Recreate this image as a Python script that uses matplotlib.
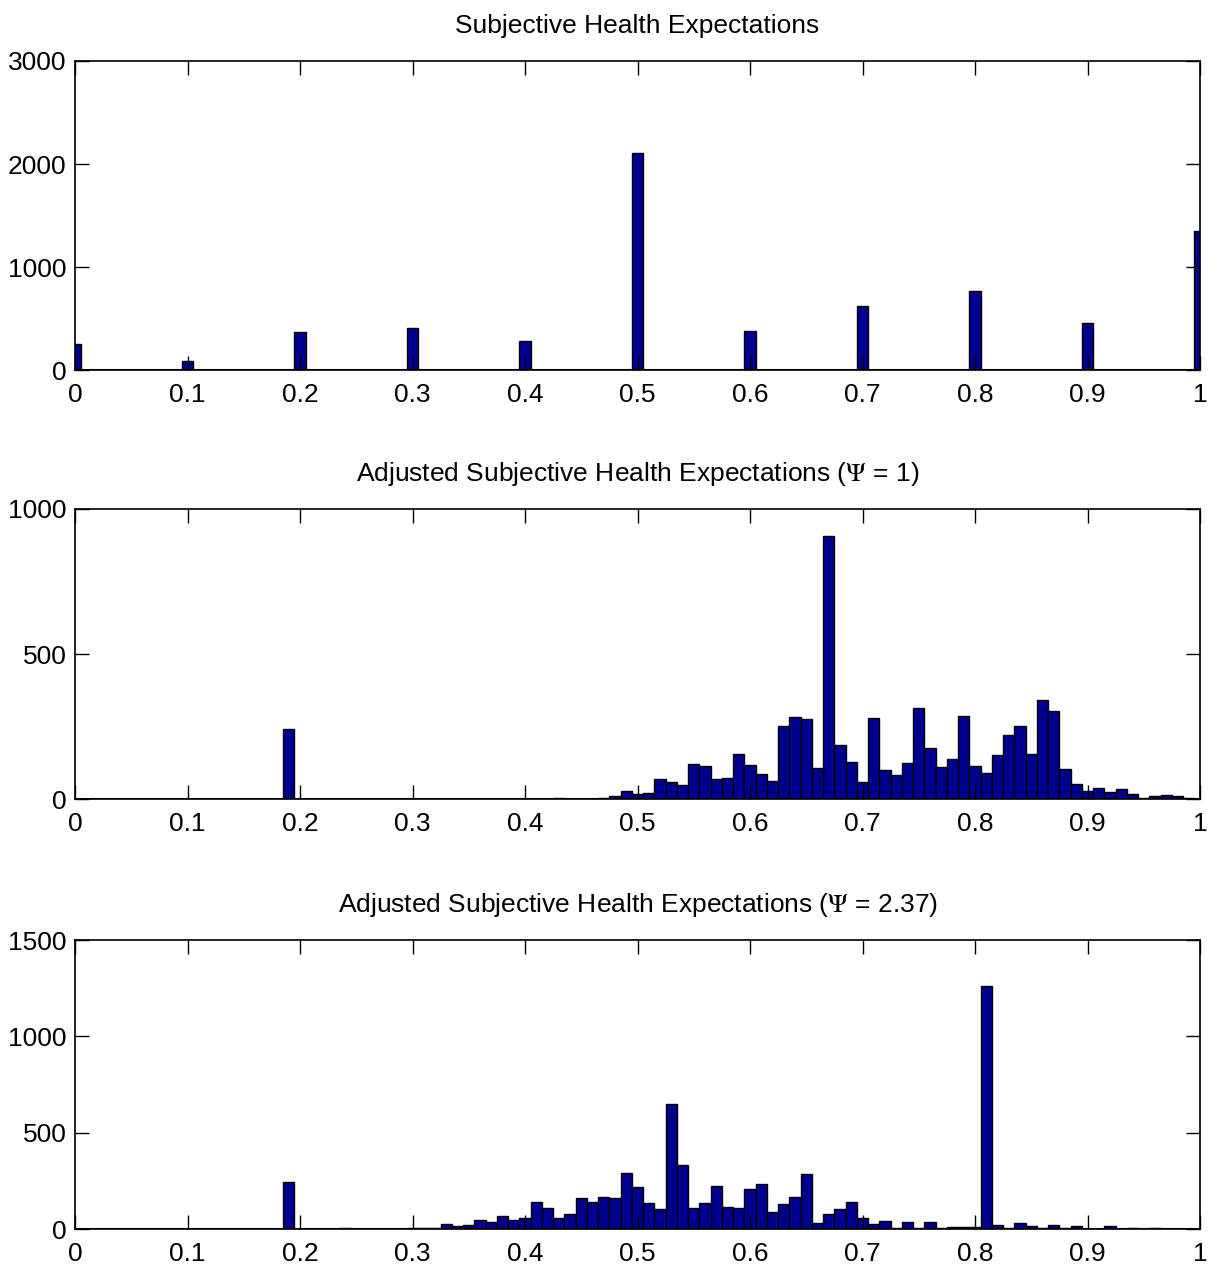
import numpy as np
import matplotlib
matplotlib.use('Agg')
import matplotlib.pyplot as plt
from matplotlib import font_manager

# condensed Helvetica-like look: use a narrow face if there is one
installed = {f.name for f in font_manager.fontManager.ttflist}
if 'Liberation Sans Narrow' in installed:
    plt.rcParams['font.family'] = ['Liberation Sans Narrow', 'DejaVu Sans']
    FS = 22
else:
    plt.rcParams['font.family'] = ['Liberation Sans', 'DejaVu Sans']
    FS = 19
plt.rcParams['mathtext.fontset'] = 'stix'

# --- data (bin centres, counts) ---
raw_x = [0.0, 0.1, 0.2, 0.3, 0.4, 0.5, 0.6, 0.7, 0.8, 0.9, 1.0]
raw_n = [250, 90, 365, 410, 280, 2105, 378, 620, 765, 455, 1350]

psi1_x = [0.19, 0.43, 0.44, 0.45, 0.46, 0.47, 0.48,
          0.49, 0.50, 0.51, 0.52, 0.53, 0.54, 0.55, 0.56, 0.57, 0.58,
          0.59, 0.60, 0.61, 0.62, 0.63, 0.64, 0.65, 0.66, 0.67, 0.68,
          0.69, 0.70, 0.71, 0.72, 0.73, 0.74, 0.75, 0.76, 0.77, 0.78,
          0.79, 0.80, 0.81, 0.82, 0.83, 0.84, 0.85, 0.86, 0.87, 0.88,
          0.89, 0.90, 0.91, 0.92, 0.93, 0.94, 0.95, 0.96, 0.97, 0.98, 0.99]
psi1_n = [242, 2, 1, 1, 1, 3, 9,
          29, 16, 21, 70, 60, 47, 121, 113, 70, 72,
          155, 118, 85, 61, 253, 284, 277, 106, 906, 187,
          129, 57, 279, 100, 82, 124, 315, 176, 110, 137,
          286, 113, 91, 153, 221, 251, 154, 343, 302, 102,
          53, 29, 39, 24, 34, 16, 3, 11, 15, 11, 2]

psi237_x = [0.19, 0.24, 0.26, 0.28, 0.30, 0.31, 0.32, 0.33, 0.34, 0.35,
            0.36, 0.37, 0.38, 0.39, 0.40, 0.41, 0.42, 0.43, 0.44, 0.45,
            0.46, 0.47, 0.48, 0.49, 0.50, 0.51, 0.52, 0.53, 0.54, 0.55,
            0.56, 0.57, 0.58, 0.59, 0.60, 0.61, 0.62, 0.63, 0.64, 0.65,
            0.66, 0.67, 0.68, 0.69, 0.70, 0.71, 0.72, 0.73, 0.74, 0.75,
            0.76, 0.77, 0.78, 0.79, 0.80, 0.81, 0.82, 0.83, 0.84, 0.85,
            0.86, 0.87, 0.88, 0.89, 0.90, 0.91, 0.92, 0.93, 0.94, 0.95,
            0.96, 0.97]
psi237_n = [243, 4, 2, 2, 4, 3, 8, 24, 15, 19,
            45, 38, 66, 45, 55, 138, 110, 55, 78, 160,
            138, 164, 159, 290, 216, 133, 102, 647, 333, 109,
            136, 221, 114, 109, 209, 234, 86, 128, 166, 288,
            31, 79, 105, 140, 55, 24, 43, 7, 38, 3,
            36, 3, 12, 12, 12, 1259, 22, 3, 29, 15,
            8, 19, 3, 14, 2, 1, 14, 2, 6, 1,
            7, 1]

titles = ['Subjective Health Expectations',
          r'Adjusted Subjective Health Expectations ($\Psi$ = 1)',
          r'Adjusted Subjective Health Expectations ($\Psi$ = 2.37)']
y_ticks = [[0, 1000, 2000, 3000], [0, 500, 1000], [0, 500, 1000, 1500]]
x_ticks = [0, 0.1, 0.2, 0.3, 0.4, 0.5, 0.6, 0.7, 0.8, 0.9, 1]
x_labels = ['0', '0.1', '0.2', '0.3', '0.4', '0.5', '0.6', '0.7', '0.8', '0.9', '1']

series = [(raw_x, raw_n), (psi1_x, psi1_n), (psi237_x, psi237_n)]
# axes boxes in figure fractions [left, bottom, width, height]
boxes = [[0.0619, 0.710, 0.9282, 0.2422],
         [0.0619, 0.3738, 0.9282, 0.2273],
         [0.0619, 0.0368, 0.9282, 0.2265]]

fig = plt.figure(figsize=(12.12, 12.76), dpi=100)

for k in range(3):
    ax = fig.add_axes(boxes[k])
    xs, ns = series[k]
    ax.bar(xs, ns, width=0.01, color='#000090', edgecolor='black', linewidth=1.0)
    ax.axhline(0, color='black', linewidth=1.5)
    ax.set_xlim(0, 1)
    ax.set_ylim(0, y_ticks[k][-1])
    ax.set_xticks(x_ticks)
    ax.set_xticklabels(x_labels)
    ax.set_yticks(y_ticks[k])
    ax.tick_params(direction='in', length=10, width=1, top=True, right=True,
                   labelsize=FS)
    ax.tick_params(axis='x', pad=9)
    ax.tick_params(axis='y', pad=6)
    for sp in ax.spines.values():
        sp.set_linewidth(1.2)
    ax.set_title(titles[k], fontsize=FS, pad=20)

plt.savefig('out.png', dpi=100)
